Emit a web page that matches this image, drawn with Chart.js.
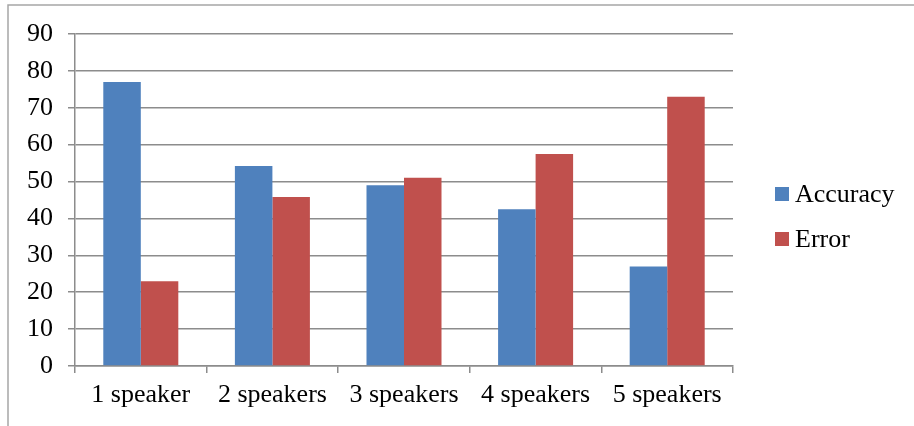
<!DOCTYPE html>
<html>
<head>
<meta charset="utf-8">
<script src="https://cdn.jsdelivr.net/npm/chart.js@4"></script>
<style>
html,body{margin:0;padding:0;background:#fff;}
#wrap{width:914px;height:426px;position:relative;}
</style>
</head>
<body>
<div id="wrap"><canvas id="myChart" width="914" height="426"></canvas></div>
<script>
// data
let categories = ['1 speaker', '2 speakers', '3 speakers', '4 speakers', '5 speakers'];
let accuracy = [77, 54.2, 49, 42.5, 27];
let error = [23, 45.8, 51, 57.5, 73];
let yTicks = [0, 10, 20, 30, 40, 50, 60, 70, 80, 90];

let font = "'Liberation Serif', 'Times New Roman', serif";
let gridGray = '#8c8c8c';

// outer frame and legend, drawn by hand like the office chart
let framePlugin = {
    id: 'frame',
    beforeDraw(chart) {
        let ctx = chart.ctx;
        ctx.save();
        ctx.strokeStyle = '#a6a6a6';
        ctx.lineWidth = 1.5;
        ctx.beginPath();
        ctx.moveTo(8, 426);
        ctx.lineTo(8, 5);
        ctx.lineTo(914, 5);
        ctx.stroke();
        ctx.restore();
    },
    afterDraw(chart) {
        let ctx = chart.ctx;
        ctx.save();
        ctx.font = '26px ' + font;
        ctx.textBaseline = 'alphabetic';
        let rows = [201, 246];
        chart.data.datasets.forEach(function (ds, i) {
            ctx.fillStyle = ds.backgroundColor;
            ctx.fillRect(775, rows[i] - 14, 14, 14);
            ctx.fillStyle = '#000';
            ctx.fillText(ds.label, 795, rows[i] + 1);
        });
        ctx.restore();
    }
};

let ctx = document.getElementById('myChart').getContext('2d');
let myChart = new Chart(ctx, {
    type: 'bar',
    data: {
        labels: categories,
        datasets: [{
            label: 'Accuracy',
            data: accuracy,
            backgroundColor: '#4F81BD',
            borderWidth: 0,
            barPercentage: 1,
            categoryPercentage: 0.57
        }, {
            label: 'Error',
            data: error,
            backgroundColor: '#C0504D',
            borderWidth: 0,
            barPercentage: 1,
            categoryPercentage: 0.57
        }]
    },
    options: {
        responsive: false,
        maintainAspectRatio: false,
        animation: false,
        layout: { padding: { left: 0, top: 34, right: 181, bottom: 0 } },
        plugins: {
            legend: { display: false },
            tooltip: { enabled: false }
        },
        scales: {
            x: {
                offset: true,
                grid: {
                    offset: true,
                    drawOnChartArea: false,
                    color: gridGray,
                    lineWidth: 1.5,
                    tickLength: 7
                },
                border: { color: gridGray, width: 1.5 },
                ticks: {
                    color: '#000',
                    font: { family: font, size: 26 },
                    padding: 7,
                    maxRotation: 0
                },
                afterFit(scale) { scale.height = 60; }
            },
            y: {
                min: 0,
                max: 90,
                afterBuildTicks(scale) {
                    scale.ticks = yTicks.map(v => ({ value: v }));
                },
                grid: {
                    color: gridGray,
                    lineWidth: 1.5,
                    tickLength: 7
                },
                border: { color: gridGray, width: 1.5 },
                ticks: {
                    color: '#000',
                    font: { family: font, size: 26 },
                    padding: 15
                },
                afterFit(scale) { scale.width = 75; }
            }
        }
    },
    plugins: [framePlugin]
});
</script>
</body>
</html>
